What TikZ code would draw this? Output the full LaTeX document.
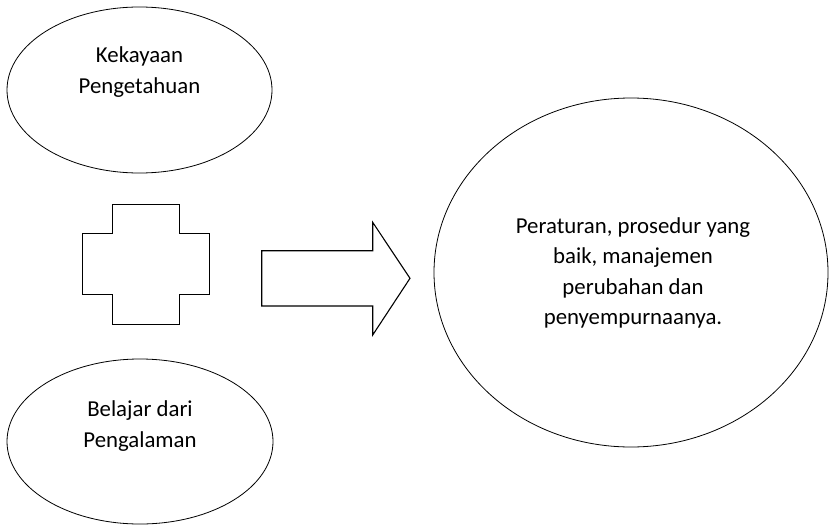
\documentclass[tikz,border=0pt]{standalone}
\usepackage{fontspec}
\setmainfont{Carlito}
\usetikzlibrary{shapes.geometric}
\tikzset{
  oval/.style={draw, ellipse, line width=0.8pt, inner sep=0pt},
  shapeline/.style={draw, line width=1.1pt, line join=miter},
  txt/.style={align=center, inner sep=0pt, font=\fontsize{22.8}{30.5}\selectfont}
}
\begin{document}
\begin{tikzpicture}[x=1pt,y=-1pt]
\useasboundingbox (0,0) rectangle (829,527);
% ovals
\node[oval, minimum width=265pt, minimum height=166pt] (ilmu) at (139.5,90) {};
\node[oval, minimum width=266pt, minimum height=165pt] (alami) at (140,441.5) {};
\node[oval, minimum width=394pt, minimum height=349pt] (hasil) at (631,272.5) {};
\node[txt] (tilmu) at (139.5,72) {Kekayaan\\Pengetahuan};
\node[txt] (talami) at (140,426) {Belajar dari\\Pengalaman};
\node[txt] (thasil) at (633,273) {Peraturan, prosedur yang\\baik, manajemen\\perubahan dan\\penyempurnaanya.};
% plus
\draw[shapeline] (112.7,204.3) -- (179.3,204.3) -- (179.3,233.7) -- (209.3,233.7)
  -- (209.3,294.3) -- (179.3,294.3) -- (179.3,324.3) -- (112.7,324.3)
  -- (112.7,294.3) -- (82.7,294.3) -- (82.7,233.7) -- (112.7,233.7) -- cycle;
% arrow
\draw[shapeline] (261.7,250.7) -- (372.7,250.7) -- (372.7,222.3) -- (410,278.3)
  -- (372.7,335) -- (372.7,306) -- (261.7,306) -- cycle;
\end{tikzpicture}
\end{document}
